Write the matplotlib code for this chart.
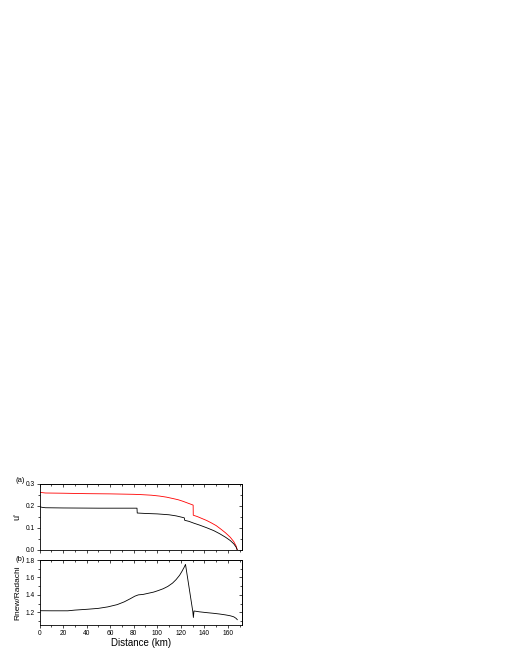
import matplotlib
matplotlib.use("Agg")
import matplotlib.pyplot as plt
from matplotlib.ticker import MultipleLocator, FormatStrFormatter

plt.rcParams["font.family"] = ["Liberation Sans", "DejaVu Sans"]

# (a) u' along the profile
dist_red = [0, 5, 20, 40, 60, 80, 85, 95, 102, 108, 114, 118, 122, 126, 129,
            130.5, 130.6, 134, 138, 142, 146, 150, 154, 158, 162, 165, 167, 168]
u_red = [0.262, 0.259, 0.258, 0.256, 0.255, 0.253, 0.252, 0.249, 0.245, 0.240,
         0.233, 0.228, 0.221, 0.213, 0.207, 0.204, 0.158, 0.152, 0.143, 0.134,
         0.123, 0.111, 0.095, 0.078, 0.058, 0.038, 0.018, 0.0]

dist_black = [0, 2, 5, 20, 50, 82.8, 83, 90, 100, 110, 116, 120, 123, 123.3,
              127, 131, 136, 142, 148, 153, 158, 162, 165, 167, 168]
u_black = [0.197, 0.194, 0.192, 0.191, 0.190, 0.190, 0.168, 0.166, 0.164,
           0.160, 0.155, 0.150, 0.146, 0.135, 0.130, 0.122, 0.113, 0.101,
           0.088, 0.074, 0.058, 0.043, 0.028, 0.013, 0.0]

# (b) Rnew/Radachi
dist_ratio = [0, 10, 24, 30, 41, 50, 58, 66, 72, 77, 81, 84, 88, 93, 97, 101,
              105, 109, 113, 116, 119, 121, 123, 124, 130.2, 130.7, 131.2, 136,
              142, 148, 153, 158, 162, 165, 167, 168]
ratio = [1.218, 1.217, 1.217, 1.225, 1.235, 1.245, 1.262, 1.288, 1.32, 1.355,
         1.385, 1.40, 1.405, 1.42, 1.432, 1.45, 1.47, 1.497, 1.535, 1.575,
         1.625, 1.67, 1.72, 1.75, 1.21, 1.14, 1.215, 1.205, 1.196, 1.188,
         1.18, 1.17, 1.16, 1.148, 1.13, 1.115]


def style_axis(ax, ystep):
    """Origin-like frame: ticks out on left/bottom, in on top/right"""
    for side in ax.spines.values():
        side.set_linewidth(0.6)
    ax.set_xlim(0, 172)
    ax.xaxis.set_major_locator(MultipleLocator(20))
    ax.xaxis.set_minor_locator(MultipleLocator(10))
    ax.yaxis.set_major_locator(MultipleLocator(ystep))
    ax.yaxis.set_minor_locator(MultipleLocator(ystep / 2))
    ax.yaxis.set_major_formatter(FormatStrFormatter("%.1f"))
    ax.tick_params(which="both", labelsize=4.8, width=0.5, pad=1.5,
                   direction="out")
    ax.tick_params(which="major", length=2.2)
    ax.tick_params(which="minor", length=1.2)

    top = ax.secondary_xaxis("top")
    top.xaxis.set_major_locator(MultipleLocator(20))
    top.xaxis.set_minor_locator(MultipleLocator(10))
    right = ax.secondary_yaxis("right")
    right.yaxis.set_major_locator(MultipleLocator(ystep))
    right.yaxis.set_minor_locator(MultipleLocator(ystep / 2))
    for sec in (top, right):
        sec.tick_params(which="both", direction="in", width=0.5,
                        labeltop=False, labelright=False)
        sec.tick_params(which="major", length=2.2)
        sec.tick_params(which="minor", length=1.2)
        for side in sec.spines.values():
            side.set_linewidth(0.6)


fig = plt.figure(figsize=(5.1, 6.6), dpi=100)

ax1 = fig.add_axes([0.0775, 0.1667, 0.397, 0.1000])
ax1.plot(dist_red, u_red, color="red", lw=0.6)
ax1.plot(dist_black, u_black, color="black", lw=0.6)
ax1.set_ylim(0, 0.3)
style_axis(ax1, 0.1)
ax1.tick_params(labelbottom=False)
ax1.set_ylabel("u'", fontsize=6.5, labelpad=3)
fig.text(0.031, 0.2727, "(a)", fontsize=5.5, va="center")

ax2 = fig.add_axes([0.0775, 0.0525, 0.397, 0.0990])
ax2.plot(dist_ratio, ratio, color="black", lw=0.6)
ax2.set_ylim(1.05, 1.8)
style_axis(ax2, 0.2)
ax2.set_ylabel("Rnew/Radachi", fontsize=6, labelpad=3)
ax2.set_xlabel("Distance (km)", fontsize=7, labelpad=0.5)
fig.text(0.031, 0.1530, "(b)", fontsize=5.5, va="center")

fig.savefig("out.png", dpi=100)
